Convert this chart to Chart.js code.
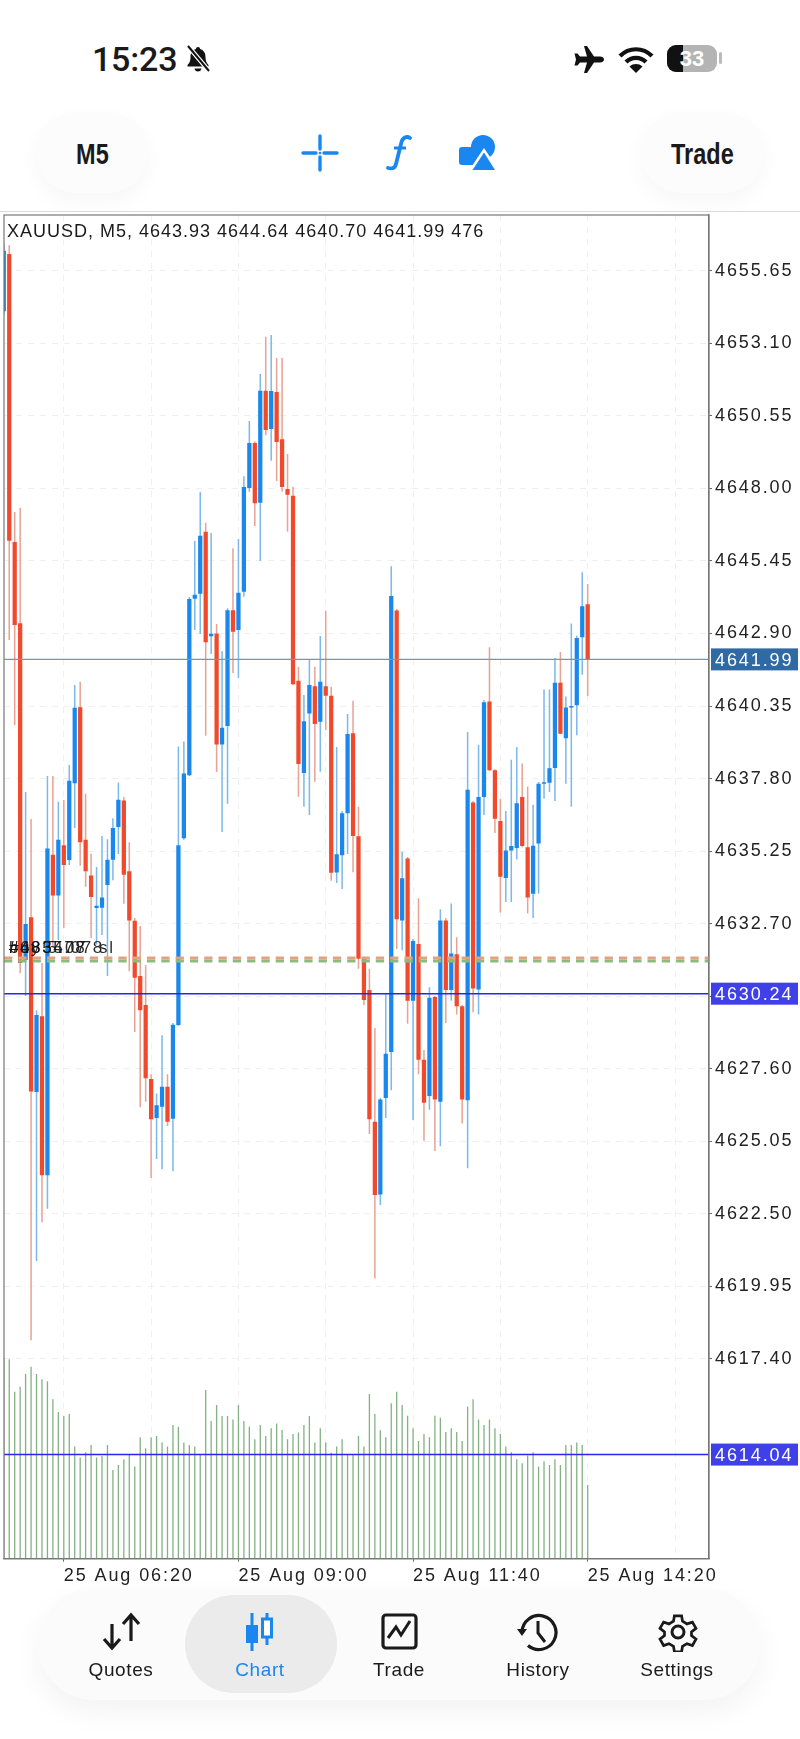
<!DOCTYPE html>
<html>
<head>
<meta charset="utf-8">
<title>XAUUSD M5</title>
<script src="https://cdn.jsdelivr.net/npm/chart.js@4/dist/chart.umd.min.js"></script>
<style>
	html, body { margin: 0; padding: 0; background: #fff; }
	body { position: relative; width: 800px; height: 1739px; overflow: hidden; font-family: 'Liberation Sans', sans-serif; color: #1a1a1a; }
	.abs { position: absolute; }
	#chartBox { position: absolute; left: 0; top: 200px; width: 800px; height: 1400px; }
	.time { left: 92px; top: 39px; font: 500 34px/40px Roboto, sans-serif; letter-spacing: -0.2px; }
	.pill { background: #fcfcfc; border-radius: 40px; box-shadow: 0 8px 22px rgba(0, 0, 0, 0.035); text-align: center; font: bold 28px/83px 'Liberation Sans', sans-serif; }
	.pill span { display: inline-block; transform: scale(0.84, 1.06); }
	.rule { left: 0; top: 211px; width: 800px; height: 1px; background: #d9d9d9; }
	.nav { left: 38px; top: 1588px; width: 722px; height: 112px; background: #fbfbfb; border-radius: 56px; box-shadow: 0 12px 30px rgba(0, 0, 0, 0.05); }
	.navOn { left: 185px; top: 1595px; width: 152px; height: 98px; background: #ebebeb; border-radius: 50px; }
	.navLabel { top: 1659px; width: 120px; text-align: center; font: 19px/22px 'Liberation Sans', sans-serif; letter-spacing: 0.6px; }
</style>
</head>
<body>
<div class="abs time">15:23</div>
<svg class="abs" style="left:184px;top:45px" width="28" height="28" viewBox="0 0 28 28">
	<path d="M14 2c1.3 0 2 .9 2.1 2 3.500 1 5.400 4 5.400 8 0 4 1 6 3 8v1.500H3.500V20c2-2 3-4 3-8 0-4 1.900-7 5.400-8 .1-1.100.8-2 2.100-2z" fill="#111"/>
	<path d="M10.500 23.500h7c-.3 1.700-1.700 3-3.500 3s-3.200-1.300-3.500-3z" fill="#111"/>
	<path d="M4 1l21 25" stroke="#fff" stroke-width="4.500"/>
	<path d="M4 1l21 25" stroke="#111" stroke-width="2"/>
</svg>
<svg class="abs" style="left:573px;top:46px" width="31" height="27" viewBox="0 0 31 27">
	<path d="M11 0h3l7 10.500h6c2.200 0 4 1.300 4 3s-1.800 3-4 3h-6L14 27h-3l3-10.500H7l-2.500 3H1.500l1.500-6-1.500-6h3L7 10.500h7z" fill="#111"/>
</svg>
<svg class="abs" style="left:618px;top:46px" width="36" height="27" viewBox="0 0 36 27">
	<path d="M2 10c9-9 23-9 32 0" fill="none" stroke="#111" stroke-width="4.200"/>
	<path d="M8 16c5.500-5.500 14.500-5.500 20 0" fill="none" stroke="#111" stroke-width="4.200"/>
	<path d="M18 27l-6.500-6.500c3.600-3.300 9.400-3.300 13 0z" fill="#111"/>
</svg>
<div class="abs" style="left:667px;top:45px;width:50px;height:27px;border-radius:9px;background:#b4b4b4;overflow:hidden">
	<div style="width:16px;height:27px;background:#111"></div>
</div>
<div class="abs" style="left:719px;top:52px;width:3px;height:12px;border-radius:2px;background:#bbb"></div>
<div class="abs" style="left:667px;top:45px;width:50px;height:27px;text-align:center;color:#fff;font:bold 22px/27px 'Liberation Sans',sans-serif">33</div>

<div class="abs pill" style="left:36px;top:112px;width:112px;height:81px"><span>M5</span></div>
<div class="abs pill" style="left:641px;top:112px;width:123px;height:81px"><span>Trade</span></div>
<svg class="abs" style="left:300px;top:133px" width="40" height="40" viewBox="0 0 40 40">
	<path d="M20 3v13M20 24v13M3 20h13M24 20h13" stroke="#1a86f0" stroke-width="3.400" stroke-linecap="round"/>
	<circle cx="20" cy="20" r="1.300" fill="#1a86f0"/>
</svg>
<svg class="abs" style="left:384px;top:133px" width="30" height="40" viewBox="0 0 30 40">
	<path d="M26 5c-3-2-7-1-8.500 4L12 31c-1 4-4 5-8 4" fill="none" stroke="#1a86f0" stroke-width="3.800" stroke-linecap="round"/>
	<path d="M10 15h12" stroke="#1a86f0" stroke-width="3"/>
</svg>
<svg class="abs" style="left:458px;top:134px" width="38" height="38" viewBox="0 0 38 38">
	<rect x="1" y="13" width="18" height="18" rx="3" fill="#1a86f0"/>
	<circle cx="25" cy="13" r="12" fill="#1a86f0"/>
	<path d="M26 14L42 38H10z" fill="#fff"/>
	<path d="M26 18.500L37 36H14.500z" fill="#1a86f0"/>
</svg>
<div class="abs rule"></div>

<div id="chartBox"><canvas id="chart"></canvas></div>

<div class="abs nav"></div>
<div class="abs navOn"></div>
<svg class="abs" style="left:101px;top:1612px" width="40" height="38" viewBox="0 0 40 38">
	<path d="M11 12v24M3 27l8 9 8-9M30 29V3M22 12l8-9 8 9" fill="none" stroke="#1a1a1a" stroke-width="3.200"/>
</svg>
<svg class="abs" style="left:245px;top:1612px" width="30" height="40" viewBox="0 0 30 40">
	<path d="M7 1v38M22 1v32" stroke="#1a86f0" stroke-width="3"/>
	<rect x="1" y="13" width="12" height="18" fill="#1a86f0"/>
	<rect x="17.500" y="7" width="9" height="18" fill="#fff" stroke="#1a86f0" stroke-width="3"/>
</svg>
<svg class="abs" style="left:381px;top:1613px" width="37" height="37" viewBox="0 0 37 37">
	<rect x="2" y="2" width="33" height="33" rx="3" fill="none" stroke="#1a1a1a" stroke-width="3.200"/>
	<path d="M7 25l8-11 5 8 9-14" fill="none" stroke="#1a1a1a" stroke-width="3"/>
</svg>
<svg class="abs" style="left:516px;top:1612px" width="42" height="40" viewBox="0 0 42 40">
	<path d="M6 20a17 17 0 1 1 6 13.500" fill="none" stroke="#1a1a1a" stroke-width="3.200"/>
	<path d="M1 17h10l-5 7z" fill="#1a1a1a"/>
	<path d="M22 9v12l7 9" fill="none" stroke="#1a1a1a" stroke-width="3"/>
</svg>
<svg class="abs" style="left:658px;top:1612px" width="40" height="40" viewBox="0 0 40 40">
	<path d="M16 2h8l1 6 5 3 6-2 4 7-5 4v4l5 4-4 7-6-2-5 3-1 6h-8l-1-6-5-3-6 2-4-7 5-4v-4l-5-4 4-7 6 2 5-3z" fill="none" stroke="#1a1a1a" stroke-width="3" transform="translate(2 2) scale(.9)"/>
	<circle cx="20" cy="20" r="6" fill="none" stroke="#1a1a1a" stroke-width="3"/>
</svg>
<div class="abs navLabel" style="left:61px">Quotes</div>
<div class="abs navLabel" style="left:200px;color:#1a86f0">Chart</div>
<div class="abs navLabel" style="left:339px">Trade</div>
<div class="abs navLabel" style="left:478px">History</div>
<div class="abs navLabel" style="left:617px">Settings</div>

<script>
const barOpen = [
	4654.23, 4656.24, 4646.12, 4643.26, 4631.42, 4632.93, 4626.78, 4629.45, 4623.86, 4635.12,
	4633.69, 4635.46, 4634.94, 4637.64, 4640.31, 4635.65, 4634.39, 4633.25, 4633.26, 4634.06,
	4634.95, 4636.10, 4637.03, 4634.54, 4632.80, 4630.86, 4629.84, 4627.24, 4625.87, 4626.27,
	4626.97, 4625.84, 4629.14, 4635.70, 4637.92, 4644.12, 4644.30, 4646.48, 4642.80, 4642.90,
	4639.00, 4639.65, 4643.72, 4643.02, 4644.37, 4648.01, 4649.60, 4647.50, 4651.43, 4650.09,
	4651.39, 4649.73, 4647.98, 4647.74, 4641.24, 4638.00, 4640.09, 4641.05, 4639.80, 4641.05,
	4640.71, 4634.50, 4635.11, 4636.58, 4639.39, 4635.77, 4631.49, 4630.37, 4625.74, 4623.18,
	4626.57, 4628.19, 4643.71, 4632.81, 4634.99, 4629.99, 4631.99, 4627.92, 4626.64, 4630.12,
	4626.44, 4632.81, 4630.37, 4631.63, 4629.80, 4626.49, 4636.96, 4630.39, 4637.15, 4640.51,
	4638.09, 4636.31, 4634.31, 4635.27, 4635.36, 4637.15, 4635.39, 4633.75, 4635.52, 4637.62,
	4637.65, 4638.17, 4641.17, 4639.22, 4640.30, 4640.38, 4642.77, 4643.93
];
const barClose = [
	4656.35, 4646.16, 4643.20, 4631.32, 4632.69, 4626.80, 4629.49, 4623.86, 4635.34, 4633.69,
	4635.65, 4634.76, 4637.72, 4640.29, 4635.56, 4634.54, 4633.64, 4633.33, 4633.62, 4634.95,
	4636.06, 4637.06, 4634.42, 4632.81, 4630.80, 4629.66, 4627.27, 4625.83, 4626.32, 4626.97,
	4625.74, 4629.15, 4635.46, 4637.98, 4644.11, 4644.26, 4646.34, 4642.59, 4642.89, 4639.00,
	4639.59, 4643.72, 4642.96, 4644.33, 4648.05, 4649.60, 4647.48, 4651.43, 4650.05, 4651.42,
	4649.63, 4648.05, 4647.78, 4641.12, 4638.31, 4639.82, 4641.09, 4639.72, 4641.20, 4640.71,
	4634.49, 4635.14, 4636.58, 4639.37, 4635.78, 4631.47, 4630.02, 4625.83, 4623.16, 4626.52,
	4628.13, 4644.22, 4632.86, 4634.30, 4629.99, 4632.09, 4627.92, 4626.41, 4630.10, 4626.52,
	4632.81, 4630.37, 4631.65, 4629.80, 4626.52, 4637.41, 4630.42, 4637.15, 4640.48, 4638.09,
	4636.39, 4634.35, 4635.27, 4635.43, 4636.93, 4635.43, 4633.62, 4635.44, 4637.62, 4637.67,
	4638.16, 4641.17, 4639.38, 4640.30, 4640.33, 4642.74, 4643.86, 4641.99
];
const barHigh = [
	4656.60, 4656.55, 4647.17, 4647.32, 4637.33, 4636.38, 4629.66, 4631.32, 4637.89, 4637.89,
	4636.99, 4637.05, 4638.28, 4641.09, 4641.20, 4637.27, 4635.16, 4634.69, 4635.78, 4635.67,
	4636.41, 4637.66, 4637.15, 4635.56, 4632.90, 4632.62, 4631.25, 4627.41, 4626.73, 4628.78,
	4627.41, 4629.21, 4638.93, 4639.10, 4644.18, 4646.15, 4647.87, 4646.79, 4646.43, 4643.23,
	4642.28, 4643.79, 4645.90, 4646.22, 4648.43, 4650.37, 4649.66, 4652.02, 4653.33, 4653.39,
	4652.58, 4652.58, 4649.21, 4648.06, 4641.73, 4640.74, 4641.97, 4641.73, 4642.81, 4643.70,
	4641.03, 4638.91, 4636.66, 4640.07, 4640.54, 4636.81, 4631.53, 4631.12, 4629.03, 4626.57,
	4630.23, 4645.26, 4643.76, 4635.23, 4635.04, 4632.16, 4633.59, 4628.26, 4630.47, 4630.16,
	4633.21, 4632.90, 4633.41, 4632.22, 4629.84, 4639.44, 4637.01, 4638.99, 4640.56, 4642.42,
	4638.13, 4637.09, 4636.66, 4638.46, 4638.90, 4638.33, 4637.52, 4636.88, 4637.68, 4640.93,
	4640.93, 4642.04, 4642.25, 4640.69, 4643.25, 4642.82, 4645.05, 4644.64
];
const barLow = [
	4654.10, 4642.67, 4639.68, 4630.96, 4630.16, 4618.06, 4620.84, 4622.21, 4622.68, 4631.90,
	4632.12, 4632.55, 4634.76, 4636.06, 4634.74, 4634.00, 4632.19, 4631.97, 4632.30, 4630.86,
	4634.23, 4635.15, 4633.40, 4631.03, 4628.89, 4626.25, 4626.44, 4623.76, 4624.43, 4624.07,
	4625.59, 4624.00, 4629.10, 4635.65, 4637.89, 4643.02, 4642.88, 4639.31, 4642.18, 4638.03,
	4635.92, 4636.92, 4641.51, 4641.34, 4644.19, 4647.88, 4646.68, 4645.45, 4649.87, 4648.97,
	4648.26, 4647.88, 4646.48, 4641.09, 4637.16, 4636.81, 4636.52, 4637.69, 4638.04, 4639.51,
	4634.21, 4634.13, 4633.92, 4635.15, 4634.51, 4631.12, 4629.84, 4625.31, 4620.23, 4622.81,
	4625.87, 4626.85, 4631.81, 4631.77, 4629.18, 4625.80, 4627.41, 4625.07, 4626.16, 4624.71,
	4624.88, 4629.21, 4629.99, 4629.51, 4625.68, 4624.10, 4629.59, 4629.51, 4636.52, 4638.06,
	4635.89, 4633.09, 4633.46, 4633.46, 4634.96, 4635.39, 4633.06, 4632.90, 4633.75, 4637.09,
	4637.33, 4637.01, 4639.37, 4637.62, 4636.81, 4639.32, 4641.45, 4640.70
];
const barVolume = [
	1300, 1288, 1079, 1111, 1193, 1240, 1193, 1159, 1146, 1030,
	948, 922, 935, 724, 653, 687, 735, 653, 664, 735,
	573, 605, 642, 670, 595, 784, 713, 784, 793, 750,
	724, 864, 853, 750, 735, 724, 674, 1090, 890, 993,
	922, 922, 900, 993, 890, 853, 771, 864, 793, 842,
	874, 831, 771, 806, 816, 864, 922, 750, 842, 750,
	685, 724, 771, 670, 674, 793, 724, 1064, 935, 829,
	784, 1004, 1079, 993, 924, 842, 760, 806, 784, 924,
	911, 818, 842, 818, 760, 982, 1030, 900, 864, 900,
	842, 806, 724, 687, 642, 616, 666, 687, 595, 629,
	605, 642, 605, 735, 735, 750, 735, 476
];

const priceTicks = [
	4655.65, 4653.10, 4650.55, 4648.00, 4645.45, 4642.90, 4640.35, 4637.80,
	4635.25, 4632.70, 4630.15, 4627.60, 4625.05, 4622.50, 4619.95, 4617.40
];
const timeGrid = [ 11, 27, 43, 59, 75, 91, 107, 123 ];
const timeTicks = [ 11, 43, 75, 107 ];
const timeLabels = [ '25 Aug 06:20', '25 Aug 09:00', '25 Aug 11:40', '25 Aug 14:20' ];

const headerText = 'XAUUSD, M5, 4643.93 4644.64 4640.70 4641.99 476';
const lastPrice = 4641.99;
const levelPrice = 4630.24;
const volumeLevel = 4614.04;
const slPrice = 4631.49;
const openPrice = 4631.39;
const orderLabels = [ '#685478  sl', 'buy 5.07', '#4835.078' ];

const xMin = 0.04, xMax = 129.23;
const yMin = 4610.38, yMax = 4657.61;
const volumeMax = 8680;

const upColor = '#1a87ee', downColor = '#f0492b';
const upWick = '#7db9ea', downWick = '#e8a394';

( function () {
	'use strict';

	const candleColor = ( i, up, down ) => barClose[ i ] >= barOpen[ i ] ? up : down;

	const hLine = ( price, color, width, dash ) => ( {
		type: 'line',
		data: [ { x: xMin, y: price }, { x: xMax, y: price } ],
		borderColor: color,
		borderWidth: width,
		borderDash: dash || [],
		pointRadius: 0,
		yAxisID: 'y',
		order: 1
	} );

	const chartChrome = {
		id: 'chartChrome',
		beforeDraw( chart ) {
			chart.ctx.letterSpacing = '1.9px';
		},
		afterDraw( chart ) {
			const ctx = chart.ctx,
				area = chart.chartArea,
				yScale = chart.scales.y;

			ctx.save();
			ctx.strokeStyle = '#777';
			ctx.lineWidth = 1.2;
			ctx.strokeRect( area.left, area.top, area.right - area.left, area.bottom - area.top );

			// Header
			ctx.letterSpacing = '1px';
			ctx.fillStyle = '#1a1a1a';
			ctx.font = "18px 'Liberation Sans'";
			ctx.textBaseline = 'alphabetic';
			ctx.textAlign = 'left';
			ctx.fillText( headerText, area.left + 3, area.top + 22 );

			// Trade labels sit on top of each other, like in the app
			ctx.letterSpacing = '1.6px';
			ctx.fillStyle = 'rgba(20, 20, 20, 0.9)';
			ctx.font = "17px 'Liberation Sans'";
			orderLabels.forEach( ( label ) => {
				ctx.fillText( label, area.left + 5, yScale.getPixelForValue( slPrice ) - 5 );
			} );

			// Price tags
			ctx.letterSpacing = '1.9px';
			ctx.font = "18px 'Liberation Sans'";
			[ [ lastPrice, '#2f6aa5' ], [ levelPrice, '#4040e8' ], [ volumeLevel, '#4040e8' ] ].forEach( ( tag ) => {
				const y = yScale.getPixelForValue( tag[ 0 ] );
				ctx.fillStyle = tag[ 1 ];
				ctx.fillRect( area.right + 2, y - 11, 87, 22 );
				ctx.fillStyle = '#fff';
				ctx.fillText( tag[ 0 ].toFixed( 2 ), area.right + 6, y + 6.5 );
			} );
			ctx.restore();
		}
	};

	new Chart(
		document.getElementById( 'chart' ),
		{
			type: 'bar',
			data: {
				datasets: [
					hLine( lastPrice, '#6f97b8', 1.2 ),
					hLine( levelPrice, '#2626ee', 1.5 ),
					hLine( volumeLevel, '#2626ee', 1.5 ),
					hLine( slPrice, '#dfa47f', 3, [ 8.3, 6 ] ),
					hLine( openPrice, '#8fba7f', 3, [ 8.3, 6 ] ),
					{
						data: barOpen.map( ( v, i ) => ( { x: i, y: [ v, barClose[ i ] ] } ) ),
						backgroundColor: barOpen.map( ( v, i ) => candleColor( i, upColor, downColor ) ),
						barPercentage: 0.78,
						categoryPercentage: 1,
						minBarLength: 1.5,
						grouped: false,
						order: 3
					},
					{
						data: barHigh.map( ( v, i ) => ( { x: i, y: [ barLow[ i ], v ] } ) ),
						backgroundColor: barOpen.map( ( v, i ) => candleColor( i, upWick, downWick ) ),
						barPercentage: 0.28,
						categoryPercentage: 1,
						grouped: false,
						order: 4
					},
					{
						data: barVolume.map( ( v, i ) => ( { x: i, y: v } ) ),
						backgroundColor: '#84b184',
						barPercentage: 0.24,
						categoryPercentage: 1,
						grouped: false,
						yAxisID: 'volume',
						order: 5
					}
				]
			},
			options: {
				responsive: true,
				maintainAspectRatio: false,
				animation: false,
				layout: {
					autoPadding: false,
					padding: { left: 4, top: 15, right: 0, bottom: 0 }
				},
				plugins: {
					legend: { display: false },
					tooltip: { enabled: false }
				},
				scales: {
					x: {
						type: 'linear',
						offset: false,
						min: xMin,
						max: xMax,
						afterFit( scale ) {
							scale.height = 41.3;
						},
						afterBuildTicks( scale ) {
							scale.ticks = timeGrid.map( ( v ) => ( { value: v } ) );
						},
						grid: {
							offset: false,
							color: '#efefef',
							lineWidth: 1,
							tickColor: ( ctx ) => timeTicks.includes( ctx.tick.value ) ? '#666' : 'rgba(0,0,0,0)',
							tickLength: 3,
							tickBorderDash: [ 0 ]
						},
						border: { color: '#777', width: 1.2, dash: [ 6, 6 ] },
						ticks: {
							align: 'start',
							autoSkip: false,
							maxRotation: 0,
							minRotation: 0,
							padding: 4,
							color: '#222',
							font: { family: "'Liberation Sans'", size: 18 },
							callback: ( v ) => {
								const i = timeTicks.indexOf( v );
								return i < 0 ? '' : timeLabels[ i ];
							}
						}
					},
					y: {
						position: 'right',
						min: yMin,
						max: yMax,
						afterFit( scale ) {
							scale.width = 91;
						},
						afterBuildTicks( scale ) {
							scale.ticks = priceTicks.map( ( v ) => ( { value: v } ) );
						},
						grid: {
							color: '#efefef',
							lineWidth: 1,
							tickColor: '#666',
							tickLength: 3,
							tickBorderDash: [ 0 ]
						},
						border: { color: '#777', width: 1.2, dash: [ 6, 6 ] },
						ticks: {
							autoSkip: false,
							padding: 3,
							color: '#222',
							font: { family: "'Liberation Sans'", size: 18 },
							callback: ( v ) => Number( v ).toFixed( 2 )
						}
					},
					volume: {
						display: false,
						min: 0,
						max: volumeMax
					}
				}
			},
			plugins: [ chartChrome ]
		}
	);
}() );
</script>
</body>
</html>
